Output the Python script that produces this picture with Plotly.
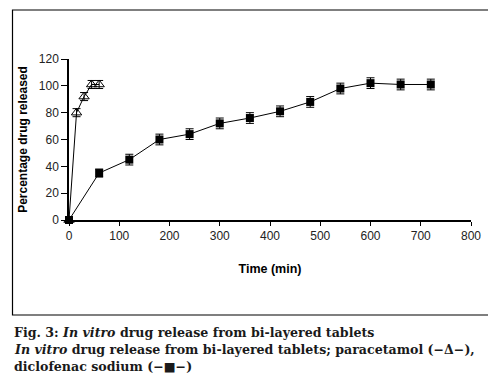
import plotly.graph_objects as go

para_t = [0, 15, 30, 45, 60]
para_y = [0, 80, 92, 101, 101]
para_err = [0, 3, 3, 3, 3]

diclo_t = [0, 60, 120, 180, 240, 300, 360, 420, 480, 540, 600, 660, 720]
diclo_y = [0, 35, 45, 60, 64, 72, 76, 81, 88, 98, 102, 101, 101]
diclo_err = [0, 3, 4, 4, 4, 4, 4, 4, 4, 4, 4, 4, 4]

x_ticks = [0, 100, 200, 300, 400, 500, 600, 700, 800]
y_ticks = [0, 20, 40, 60, 80, 100, 120]

fig = go.Figure()
fig.add_trace(go.Scatter(
    x=diclo_t, y=diclo_y, mode="lines+markers", name="diclofenac sodium",
    line=dict(color="black", width=1),
    marker=dict(symbol="square", size=8, color="black"),
    error_y=dict(type="data", array=diclo_err, color="black", thickness=1, width=4),
    cliponaxis=False,
))
fig.add_trace(go.Scatter(
    x=para_t, y=para_y, mode="lines+markers", name="paracetamol",
    line=dict(color="black", width=1),
    marker=dict(symbol="triangle-up-open", size=9, color="black", line=dict(width=1)),
    error_y=dict(type="data", array=para_err, color="black", thickness=1, width=4),
    cliponaxis=False,
))

# page has an 8px body margin; work in window pixels and shift
OFF = 8
W, H = 496 - OFF, 381 - OFF
L, T = 69 - OFF, 59 - OFF
R = W - (471 - OFF)
B = H - (220 - OFF)
pw, ph = W - L - R, H - T - B

def px(x):
    return (x - OFF - L) / pw

def py(y):
    return (H - B - (y - OFF)) / ph

fig.update_layout(
    width=W, height=H,
    margin=dict(l=L, r=R, t=T, b=B, pad=0),
    paper_bgcolor="white", plot_bgcolor="white",
    showlegend=False,
    font=dict(family="Liberation Sans, Arial, sans-serif", size=12, color="black"),
    xaxis=dict(range=[0, 800], tickvals=x_ticks, ticks="outside", ticklen=4,
               showline=True, linecolor="black", linewidth=1.5, showgrid=False,
               zeroline=False, tickcolor="black", tickfont=dict(size=12, color="#222"),
               title=dict(text="<b>Time (min)</b>", font=dict(size=12.5), standoff=22)),
    yaxis=dict(range=[0, 120], tickvals=y_ticks, ticks="outside", ticklen=6,
               showline=True, linecolor="black", linewidth=1.5, showgrid=False,
               zeroline=False, tickcolor="black", tickfont=dict(size=12, color="#222"),
               title=dict(text="<b>Percentage drug released</b>", font=dict(size=12), standoff=9)),
    shapes=[dict(type="rect", xref="paper", yref="paper",
                 x0=px(12.5), x1=px(492), y0=py(315), y1=py(10),
                 line=dict(color="black", width=1.2))],
)

serif = "DejaVu Serif, Liberation Serif, serif"
captions = [
    (332, "<b>Fig. 3: <i>In vitro</i> drug release from bi-layered tablets</b>"),
    (349, "<b><i>In vitro</i> drug release from bi-layered tablets; paracetamol (\u2212\u0394\u2212),</b>"),
    (366, "<b>diclofenac sodium (\u2212\u25a0\u2212)</b>"),
]
for yy, txt in captions:
    fig.add_annotation(x=px(12), y=py(yy), xref="paper", yref="paper",
                       text=txt, showarrow=False, xanchor="left", yanchor="middle",
                       font=dict(family=serif, size=12.6, color="#1a1a1a"))

fig.write_html("out.html")
